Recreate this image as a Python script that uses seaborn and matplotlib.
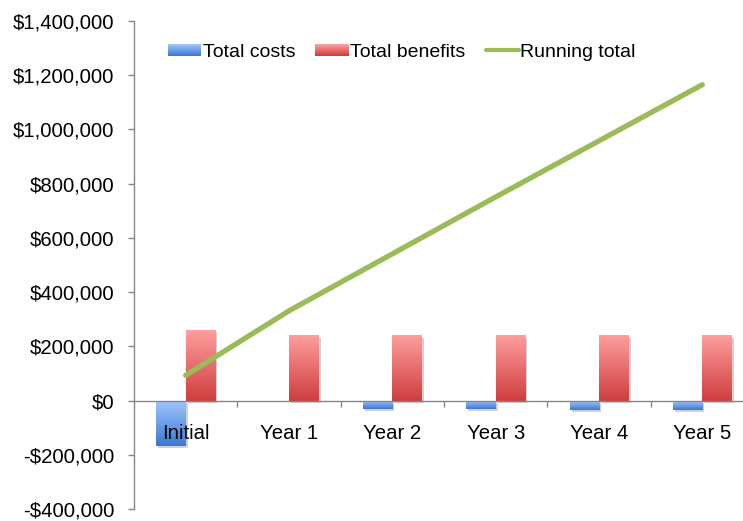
import numpy as np
import pandas as pd
import matplotlib
matplotlib.use("Agg")
import matplotlib.pyplot as plt
import seaborn as sns
from matplotlib.ticker import FuncFormatter
from matplotlib.colors import LinearSegmentedColormap, to_rgb
from matplotlib.patches import Patch, Rectangle
from matplotlib.lines import Line2D
from matplotlib.legend_handler import HandlerBase
import matplotlib.patheffects as pe

# ---- data ----
categories = ["Initial", "Year 1", "Year 2", "Year 3", "Year 4", "Year 5"]
total_costs = [-166000, -2000, -30000, -30000, -33000, -33000]
total_benefits = [259000, 240000, 240000, 240000, 240000, 240000]
running_total = [93000, 331000, 541000, 751000, 958000, 1165000]
y_ticks = [-400000, -200000, 0, 200000, 400000, 600000, 800000, 1000000, 1200000, 1400000]
series_names = ["Total costs", "Total benefits", "Running total"]

# ---- style ----
sns.set_theme(style="white")
plt.rcParams['font.family'] = ['Liberation Sans', 'DejaVu Sans']
plt.rcParams['text.color'] = 'black'

cost_top, cost_bot = "#9fc5ff", "#3c79d0"
ben_top, ben_bot = "#ff9d9d", "#cf3e3e"
green = "#9bbb59"
axis_gray = "#868686"

fig = plt.figure(figsize=(7.43, 5.21), dpi=100)
ax = fig.add_axes([134 / 743, 12 / 521, 620 / 743, 488 / 521])

df = pd.DataFrame({
    "category": categories * 2,
    "value": total_costs + total_benefits,
    "series": [series_names[0]] * len(categories) + [series_names[1]] * len(categories),
})
sns.barplot(data=df, x="category", y="value", hue="series", order=categories,
            hue_order=series_names[:2], palette=["#6d9fe8", "#e76d6d"],
            width=0.57, gap=0, errorbar=None, saturation=1, legend=False, ax=ax)

# gradient fills (light at top, dark at bottom) clipped to each bar
n = len(categories)
grad = np.linspace(0, 1, 64).reshape(-1, 1)
cmaps = [LinearSegmentedColormap.from_list("c", [cost_top, cost_bot]),
         LinearSegmentedColormap.from_list("b", [ben_top, ben_bot])]
bars = [p for p in ax.patches][: 2 * n]
for i, p in enumerate(bars):
    cm = cmaps[0] if i < n else cmaps[1]
    x0, w = p.get_x(), p.get_width()
    y0, h = p.get_y(), p.get_height()
    ylo, yhi = min(y0, y0 + h), max(y0, y0 + h)
    p.set_edgecolor("none")
    if yhi - ylo <= 0:
        continue
    p.set_path_effects([pe.SimplePatchShadow(offset=(1.5, -1.5), shadow_rgbFace="black",
                                             alpha=0.18), pe.Normal()])
    im = ax.imshow(grad, cmap=cm, aspect="auto", extent=[x0, x0 + w, ylo, yhi],
                   origin="upper", zorder=p.get_zorder() + 0.1, interpolation="bilinear")
    im.set_clip_path(p)

# running total line
sns.lineplot(x=np.arange(n), y=running_total, color=green, linewidth=3.8, ax=ax,
             solid_capstyle="round", zorder=5)

ax.set_xlim(-0.5, n - 0.5)
ax.set_ylim(y_ticks[0], y_ticks[-1])
ax.set_xlabel("")
ax.set_ylabel("")
ax.set_axisbelow(False)

# spines
for s in ["top", "right"]:
    ax.spines[s].set_visible(False)
ax.spines["bottom"].set_position(("data", 0))
for s in ["bottom", "left"]:
    ax.spines[s].set_color(axis_gray)
    ax.spines[s].set_linewidth(1.0)
    ax.spines[s].set_zorder(4)

# x ticks: boundary marks (major), labels at centers (minor)
ax.set_xticks([i + 0.5 for i in range(n - 1)])
ax.set_xticklabels([])
ax.set_xticks(list(range(n)), minor=True)
ax.set_xticklabels(categories, minor=True)
ax.tick_params(axis="x", which="major", bottom=True, length=4.5, width=1,
               color=axis_gray, direction="out")
ax.tick_params(axis="x", which="minor", bottom=True, length=0, pad=17,
               labelsize=14.7, labelcolor="black")
ax.xaxis.set_zorder(6)

# y ticks
ax.set_yticks(y_ticks)
ax.yaxis.set_major_formatter(FuncFormatter(
    lambda v, _: f"-${abs(v):,.0f}" if v < 0 else f"${v:,.0f}"))
ax.tick_params(axis="y", left=True, length=4.5, width=1, color=axis_gray,
               direction="out", pad=9.5, labelsize=14.7, labelcolor="black")


# legend with gradient patches
class GradientHandler(HandlerBase):
    def __init__(self, top, bot, steps=12):
        super().__init__()
        self.top, self.bot, self.steps = np.array(to_rgb(top)), np.array(to_rgb(bot)), steps

    def create_artists(self, legend, orig_handle, xdescent, ydescent, width, height,
                       fontsize, trans):
        arts = []
        hstep = height / self.steps
        for k in range(self.steps):
            t = k / (self.steps - 1)
            c = self.top * (1 - t) + self.bot * t
            y = -ydescent + height - (k + 1) * hstep
            arts.append(Rectangle((-xdescent, y), width, hstep * 1.05, facecolor=c,
                                  edgecolor="none", transform=trans))
        return arts


h_cost = Patch(facecolor="#6d9fe8", edgecolor="none")
h_ben = Patch(facecolor="#e76d6d", edgecolor="none")
h_run = Line2D([], [], color=green, linewidth=3)
ax.legend([h_cost, h_ben, h_run], series_names, loc="center", bbox_to_anchor=(0.432, 0.936),
          ncol=3, frameon=False, fontsize=14, handlelength=1.7, handleheight=0.55,
          handletextpad=0.08, columnspacing=1.05,
          handler_map={h_cost: GradientHandler(cost_top, cost_bot),
                       h_ben: GradientHandler(ben_top, ben_bot)})

fig.savefig("out.png", dpi=100)
